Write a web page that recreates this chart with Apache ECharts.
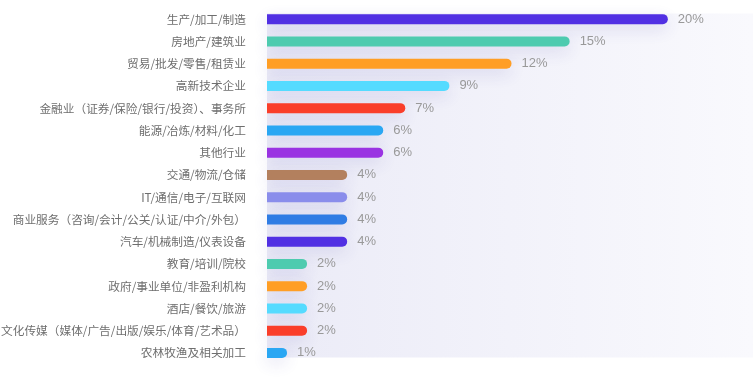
<!DOCTYPE html>
<html>
<head>
<meta charset="utf-8">
<script src="https://cdn.jsdelivr.net/npm/echarts@6/dist/echarts.min.js"></script>
<style>
html,body{margin:0;padding:0;background:#fff;}
#chart{width:753px;height:381px;}
</style>
</head>
<body>
<div id="chart"></div>
<script>
var categories = [
  '生产/加工/制造',
  '房地产/建筑业',
  '贸易/批发/零售/租赁业',
  '高新技术企业',
  '金融业（证券/保险/银行/投资）、事务所',
  '能源/冶炼/材料/化工',
  '其他行业',
  '交通/物流/仓储',
  'IT/通信/电子/互联网',
  '商业服务（咨询/会计/公关/认证/中介/外包）',
  '汽车/机械制造/仪表设备',
  '教育/培训/院校',
  '政府/事业单位/非盈利机构',
  '酒店/餐饮/旅游',
  '文化传媒（媒体/广告/出版/娱乐/体育/艺术品）',
  '农林牧渔及相关加工'
];
var values = [20.0, 15.1, 12.2, 9.1, 6.9, 5.8, 5.8, 4.0, 4.0, 4.0, 4.0, 2.0, 2.0, 2.0, 2.0, 1.0];
var palette = ['#5130e3', '#4ecbaf', '#ff9e25', '#55dbff', '#fa3e2a', '#2aa7f3', '#9a33e2', '#b3805e', '#8a8deb', '#2f7ce4'];

var chart = echarts.init(document.getElementById('chart'));
chart.setOption({
  backgroundColor: '#ffffff',
  animation: false,
  graphic: [{
    type: 'rect',
    z: -10,
    shape: { x: 267, y: 13.5, width: 486, height: 344 },
    style: {
      fill: new echarts.graphic.LinearGradient(0, 0, 1, 0, [
        { offset: 0, color: '#ebebf7' },
        { offset: 1, color: '#f9f9fd' }
      ])
    },
    silent: true
  }],
  grid: { left: 267, top: 8, width: 481, height: 356, containLabel: false, outerBoundsMode: 'none' },
  xAxis: {
    type: 'value', min: 0, max: 24,
    show: false
  },
  yAxis: {
    type: 'category',
    inverse: true,
    data: categories,
    axisLine: { show: false },
    axisTick: { show: false },
    splitLine: { show: false },
    axisLabel: {
      margin: 21,
      color: '#6e6e6e',
      fontSize: 11.7,
      fontFamily: 'Noto Sans CJK SC'
    }
  },
  series: [{
    type: 'bar',
    data: values.map(function (v, i) {
      return { value: v, itemStyle: { color: palette[i % palette.length] } };
    }),
    barWidth: 10,
    itemStyle: {
      borderRadius: [0, 5, 5, 0],
      shadowColor: 'rgba(70,60,170,0.16)',
      shadowBlur: 16,
      shadowOffsetY: 5
    },
    label: {
      show: true,
      position: 'right',
      distance: 10,
      color: '#999999',
      fontSize: 13,
      fontFamily: 'Liberation Sans, Arial',
      formatter: function (p) { return Math.round(p.value) + '%'; }
    }
  }]
});
</script>
</body>
</html>
